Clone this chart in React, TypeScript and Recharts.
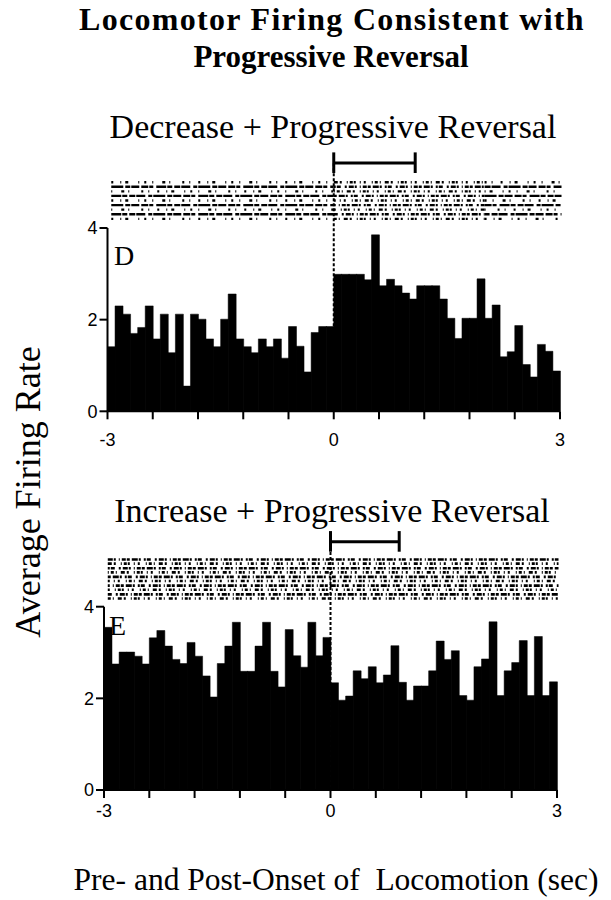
import React from 'react';
import { ComposedChart, Bar, XAxis, YAxis, ReferenceLine } from 'recharts';

// ---- data ----
const binIndex = Array.from({ length: 60 }, (_, i) => i);
const binCenters = binIndex.map((i) => -2.95 + i * 0.1);

const decreaseRates = [
  1.41, 2.3, 2.12, 1.7, 1.83, 2.3, 1.58, 2.12, 1.28, 2.12,
  0.55, 2.12, 2.01, 1.58, 1.41, 2.01, 2.56, 1.58, 1.41, 1.28,
  1.58, 1.41, 1.58, 1.16, 1.85, 1.42, 0.86, 1.72, 1.85, 1.85,
  2.99, 2.99, 2.99, 2.99, 2.87, 3.85, 2.74, 2.88, 2.74, 2.58,
  2.45, 2.74, 2.74, 2.74, 2.45, 2.03, 1.59, 2.03, 2.03, 2.89,
  2.03, 2.32, 1.19, 1.3, 1.87, 1.02, 0.75, 1.46, 1.31, 0.88,
];

const increaseRates = [
  3.55, 2.75, 3.01, 3.01, 2.92, 2.75, 3.32, 3.48, 3.14, 2.85,
  2.76, 3.22, 2.92, 2.49, 2.03, 2.76, 3.14, 3.66, 2.59, 2.59,
  3.14, 3.66, 2.59, 2.25, 3.5, 2.93, 2.68, 3.66, 2.93, 3.33,
  2.34, 1.96, 2.05, 2.6, 2.43, 2.69, 2.34, 2.51, 3.15, 2.35,
  1.96, 2.27, 2.27, 2.6, 3.25, 2.85, 3.04, 2.06, 1.96, 2.69,
  2.86, 3.67, 2.06, 2.6, 2.78, 3.26, 2.06, 3.35, 2.06, 2.36,
];

const xTicks = [-3, -2.4, -1.8, -1.2, -0.6, 0, 0.6, 1.2, 1.8, 2.4, 3];
const xTickLabels = ['-3', '', '', '', '', '0', '', '', '', '', '3'];
const yTicks = [0, 2, 4];

const decreaseBracketEnd = 1.08;
const increaseBracketEnd = 0.91;

const topRasterRows = [4.2, 4.3, 4.4, 4.5, 4.6, 4.7, 4.8, 4.9, 5.0];
const bottomRasterRows = [4.18, 4.27, 4.37, 4.46, 4.56, 4.65, 4.75, 4.84, 4.94, 5.03];

// ---- styles ----
const SERIF = '"Liberation Serif", "Times New Roman", serif';
const SANS = '"Liberation Sans", Arial, sans-serif';

const sparsePattern = [2, 7, 1, 4, 3, 10, 1, 5, 2, 6, 1, 9, 3, 4, 1, 12, 2, 5, 1, 8];
const densePattern = [3, 2, 1, 4, 4, 2, 2, 5, 1, 2, 3, 1, 2, 4, 1, 3, 2, 6, 1, 2];
const rotate = (p: number[], n: number) => {
  const k = n % p.length;
  return p.slice(k).concat(p.slice(0, k)).join(' ');
};

const makeData = (vals: number[]) =>
  binIndex.map((i) => ({ bin: i, t: binCenters[i], rate: vals[i] }));

type PanelProps = {
  values: number[];
  top: number;
  marginTop: number;
  marginLeft: number;
  marginRight: number;
  bracketEnd: number;
  rows: number[];
  denseEverywhere: boolean;
  tickDy: number;
};

const Panel = ({ values, top, marginTop, marginLeft, marginRight, bracketEnd, rows, denseEverywhere, tickDy }: PanelProps) => {
  const data = makeData(values);
  const height = 460;
  const plotH = 183.3;
  const xAxisH = 40;
  const marginBottom = height - marginTop - plotH - xAxisH;
  return (
    <div style={{ position: 'absolute', left: 0, top, width: 611, height }}>
      <ComposedChart
        width={611}
        height={height}
        data={data}
        margin={{ top: marginTop, right: marginRight, left: marginLeft, bottom: marginBottom }}
        barCategoryGap={0}
        barGap={0}
      >
        <XAxis
          xAxisId="t"
          dataKey="t"
          type="number"
          domain={[-3, 3]}
          ticks={xTicks}
          interval={0}
          height={xAxisH}
          tickSize={8}
          axisLine={{ stroke: '#000', strokeWidth: 2 }}
          tickLine={{ stroke: '#000', strokeWidth: 2 }}
          tick={{ fill: '#000', fontFamily: SANS, fontSize: 18, dy: tickDy }}
          tickFormatter={(v: number) => {
            const idx = xTicks.findIndex((x) => Math.abs(x - v) < 1e-6);
            return idx >= 0 ? xTickLabels[idx] : '';
          }}
        />
        <XAxis xAxisId="bins" dataKey="bin" type="category" hide height={0} />
        <YAxis
          domain={[0, 4]}
          ticks={yTicks}
          width={50}
          tickSize={8}
          axisLine={{ stroke: '#000', strokeWidth: 2 }}
          tickLine={{ stroke: '#000', strokeWidth: 2 }}
          tick={{ fill: '#000', fontFamily: SANS, fontSize: 18 }}
          allowDataOverflow
        />
        <Bar
          xAxisId="bins"
          dataKey="rate"
          fill="#000"
          stroke="#000"
          strokeWidth={0.5}
          isAnimationActive={false}
        />
        {rows.map((y, r) =>
          denseEverywhere ? (
            <ReferenceLine
              key={'d' + r}
              xAxisId="t"
              ifOverflow="visible"
              segment={[{ x: -2.95, y }, { x: 3.02, y }]}
              stroke="#000"
              strokeWidth={2.6}
              strokeDasharray={rotate(densePattern, r * 3)}
            />
          ) : (
            <React.Fragment key={'s' + r}>
              <ReferenceLine
                xAxisId="t"
                ifOverflow="visible"
                segment={[{ x: -2.95, y }, { x: 0, y }]}
                stroke="#000"
                strokeWidth={2.4}
                strokeDasharray={rotate(sparsePattern, r * 5)}
              />
              <ReferenceLine
                xAxisId="t"
                ifOverflow="visible"
                segment={[{ x: 0, y }, { x: 2.0, y }]}
                stroke="#000"
                strokeWidth={2.4}
                strokeDasharray={rotate(densePattern, r * 3)}
              />
              <ReferenceLine
                xAxisId="t"
                ifOverflow="visible"
                segment={[{ x: 2.0, y }, { x: 3.02, y }]}
                stroke="#000"
                strokeWidth={2.4}
                strokeDasharray={rotate(sparsePattern, r * 7)}
              />
            </React.Fragment>
          )
        )}
        <ReferenceLine
          xAxisId="t"
          ifOverflow="visible"
          segment={[{ x: 0, y: 0 }, { x: 0, y: 5.42 }]}
          stroke="#000"
          strokeWidth={2}
          strokeDasharray="3 2"
        />
        <ReferenceLine
          xAxisId="t"
          ifOverflow="visible"
          segment={[{ x: 0, y: 5.42 }, { x: bracketEnd, y: 5.42 }]}
          stroke="#000"
          strokeWidth={3}
        />
        <ReferenceLine
          xAxisId="t"
          ifOverflow="visible"
          segment={[{ x: 0, y: 5.2 }, { x: 0, y: 5.65 }]}
          stroke="#000"
          strokeWidth={3}
        />
        <ReferenceLine
          xAxisId="t"
          ifOverflow="visible"
          segment={[{ x: bracketEnd, y: 5.2 }, { x: bracketEnd, y: 5.65 }]}
          stroke="#000"
          strokeWidth={3}
        />
      </ComposedChart>
    </div>
  );
};

const textStyle = (cx: number, cy: number, size: number, bold = false, spacing = 0): React.CSSProperties => ({
  position: 'absolute',
  left: cx - 300,
  width: 600,
  top: cy - size / 2,
  lineHeight: `${size}px`,
  fontSize: size,
  fontFamily: SERIF,
  fontWeight: bold ? 700 : 400,
  letterSpacing: spacing,
  textAlign: 'center',
  whiteSpace: 'nowrap',
  color: '#000',
});

export default function App() {
  return (
    <div style={{ position: 'absolute', left: 0, top: 0, width: 611, height: 900, background: '#fff', overflow: 'hidden' }}>
      <div style={textStyle(332, 19, 32, true, 1.3)}>Locomotor Firing Consistent with</div>
      <div style={textStyle(331, 56, 31, true)}>Progressive Reversal</div>
      <div style={textStyle(333, 127, 34)}>Decrease + Progressive Reversal</div>
      <div style={textStyle(332, 511, 34)}>Increase + Progressive Reversal</div>

      <Panel
        values={decreaseRates}
        top={0}
        marginTop={228}
        marginLeft={57.5}
        marginRight={51}
        bracketEnd={decreaseBracketEnd}
        rows={topRasterRows}
        denseEverywhere={false}
        tickDy={12}
      />
      <Panel
        values={increaseRates}
        top={380}
        marginTop={226.7}
        marginLeft={54}
        marginRight={54}
        bracketEnd={increaseBracketEnd}
        rows={bottomRasterRows}
        denseEverywhere={true}
        tickDy={4}
      />

      <div style={{ ...textStyle(125, 256, 28), left: 114, width: 30, textAlign: 'left' }}>D</div>
      <div style={{ ...textStyle(120, 626, 28), left: 109, width: 30, textAlign: 'left' }}>E</div>

      <div
        style={{
          position: 'absolute',
          left: 28 - 200,
          top: 492 - 18,
          width: 400,
          lineHeight: '36px',
          fontSize: 36,
          fontFamily: SERIF,
          textAlign: 'center',
          transform: 'rotate(-90deg)',
          whiteSpace: 'nowrap',
          color: '#000',
        }}
      >
        Average Firing Rate
      </div>
      <div style={textStyle(336, 880, 31.5)}>Pre- and Post-Onset of&nbsp; Locomotion (sec)</div>
    </div>
  );
}
